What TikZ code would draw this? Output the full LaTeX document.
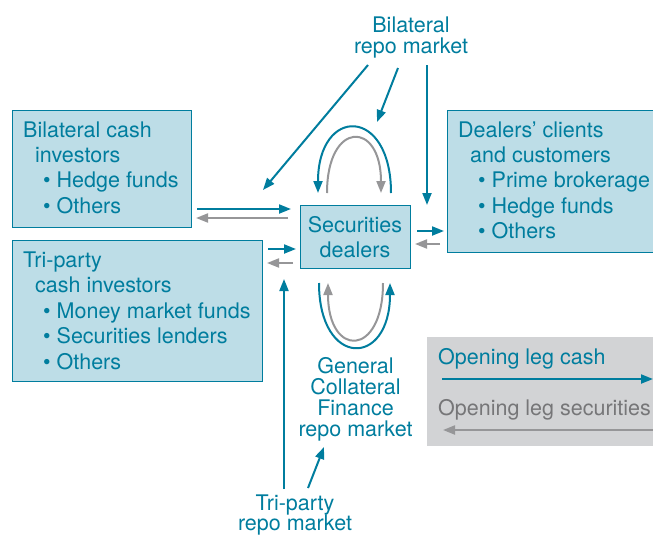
\documentclass[tikz,border=0pt]{standalone}
\usepackage{fontspec}
\setmainfont{TeX Gyre Heros}
\usetikzlibrary{arrows.meta}
\definecolor{tealc}{RGB}{0,125,158}
\definecolor{boxfill}{RGB}{189,221,231}
\definecolor{grayarr}{RGB}{150,150,152}
\definecolor{graytxt}{RGB}{118,118,120}
\definecolor{legfill}{RGB}{210,211,213}
\begin{document}
\begin{tikzpicture}[x=1pt,y=-1pt,
  box/.style={draw=tealc, line width=1pt, fill=boxfill, inner sep=0pt, anchor=north west},
  txt/.style={text=tealc, font=\fontsize{21.5}{25}\selectfont, inner sep=0pt, anchor=base west},
  ctxt/.style={txt, anchor=base},
  cash/.style={draw=tealc, line width=2pt, -{Triangle[length=12pt,width=9pt]}},
  secs/.style={draw=grayarr, line width=2pt, -{Triangle[length=12pt,width=9pt]}},
]
\clip (0,0) rectangle (653,536);
\useasboundingbox (0,0) rectangle (653,536);

% boxes
\node[box, minimum width=179pt, minimum height=117pt] (bil) at (12,110) {};
\node[box, minimum width=250pt, minimum height=141pt] (tri) at (12,240) {};
\node[box, minimum width=230pt, minimum height=142pt] (cli) at (447,110) {};
\node[box, minimum width=110pt, minimum height=63pt] (dea) at (300,205) {};
\node[fill=legfill, inner sep=0pt, anchor=north west, minimum width=240pt, minimum height=109pt] (leg) at (427,337) {};

% bilateral cash investors
\node[txt] (b1) at (23,137) {Bilateral cash};
\node[txt] (b2) at (35,162) {investors};
\node[txt] (b3) at (43,187.5) {\textbullet\ Hedge funds};
\node[txt] (b4) at (43,213) {\textbullet\ Others};

% tri-party cash investors
\node[txt] (t1) at (23,267) {Tri-party};
\node[txt] (t2) at (35,292.5) {cash investors};
\node[txt] (t3) at (43,318) {\textbullet\ Money market funds};
\node[txt] (t4) at (43,343.5) {\textbullet\ Securities lenders};
\node[txt] (t5) at (43,369) {\textbullet\ Others};

% dealers' clients
\node[txt] (c1) at (458,137) {Dealers’ clients};
\node[txt] (c2) at (470,162) {and customers};
\node[txt] (c3) at (478,187.5) {\textbullet\ Prime brokerage};
\node[txt] (c4) at (478,213) {\textbullet\ Hedge funds};
\node[txt] (c5) at (478,238.5) {\textbullet\ Others};

% securities dealers
\node[ctxt] (d1) at (355,232) {Securities};
\node[ctxt] (d2) at (355,257) {dealers};

% market labels
\node[ctxt] (bm1) at (411,32) {Bilateral};
\node[ctxt] (bm2) at (411,53) {repo market};
\node[ctxt] (g1) at (355.5,373.5) {General};
\node[ctxt] (g2) at (355.5,394.5) {Collateral};
\node[ctxt] (g3) at (355.5,415.5) {Finance};
\node[ctxt] (g4) at (355.5,436.5) {repo market};
\node[ctxt] (tm1) at (295,510.5) {Tri-party};
\node[ctxt] (tm2) at (295,530.5) {repo market};

% legend
\node[txt] (l1) at (438,364) {Opening leg cash};
\node[txt, text=graytxt] (l2) at (438,415) {Opening leg securities};
\coordinate (la1) at (442,379);
\coordinate (la2) at (653,379);
\coordinate (lb1) at (653,430);
\coordinate (lb2) at (443,430);
\draw[cash] (la1) -- (la2);
\draw[secs] (lb1) -- (lb2);

% arrows from bilateral repo market
\coordinate (r1s) at (368,65);
\coordinate (r1e) at (263,190);
\coordinate (r2s) at (398,68);
\coordinate (r2e) at (377,122);
\coordinate (r3s) at (427,65);
\coordinate (r3e) at (427,205);
\draw[cash] (r1s) -- (r1e);
\draw[cash] (r2s) -- (r2e);
\draw[cash] (r3s) -- (r3e);

% bilateral box <-> dealers
\coordinate (h1s) at (197,209);
\coordinate (h1e) at (291,209);
\coordinate (h2s) at (288,218);
\coordinate (h2e) at (196,218);
\draw[cash] (h1s) -- (h1e);
\draw[secs] (h2s) -- (h2e);

% tri-party box <-> dealers
\coordinate (h3s) at (268,249);
\coordinate (h3e) at (296,249);
\coordinate (h4s) at (293,263);
\coordinate (h4e) at (267,263);
\draw[cash] (h3s) -- (h3e);
\draw[secs] (h4s) -- (h4e);

% dealers <-> clients
\coordinate (h5s) at (417,231);
\coordinate (h5e) at (444,231);
\coordinate (h6s) at (440,244);
\coordinate (h6e) at (415,244);
\draw[cash] (h5s) -- (h5e);
\draw[secs] (h6s) -- (h6e);

% top loop
\coordinate (ut1) at (391,193);
\coordinate (ut2) at (318,193);
\coordinate (ug1) at (327,193);
\coordinate (ug2) at (381,193);
\draw[cash] (ut1) .. controls (391,106) and (318,106) .. (ut2);
\draw[secs] (ug1) .. controls (327,120) and (381,120) .. (ug2);

% bottom loop
\coordinate (dt1) at (319,283);
\coordinate (dt2) at (390,283);
\coordinate (dg1) at (383,283);
\coordinate (dg2) at (328,283);
\draw[cash] (dt1) .. controls (319,368) and (390,368) .. (dt2);
\draw[secs] (dg1) .. controls (383,358) and (328,358) .. (dg2);

% tri-party repo market arrows
\coordinate (v1s) at (284,489);
\coordinate (v1e) at (284,279);
\coordinate (v2s) at (308,488);
\coordinate (v2e) at (324,447);
\draw[cash] (v1s) -- (v1e);
\draw[cash] (v2s) -- (v2e);
\end{tikzpicture}
\end{document}
